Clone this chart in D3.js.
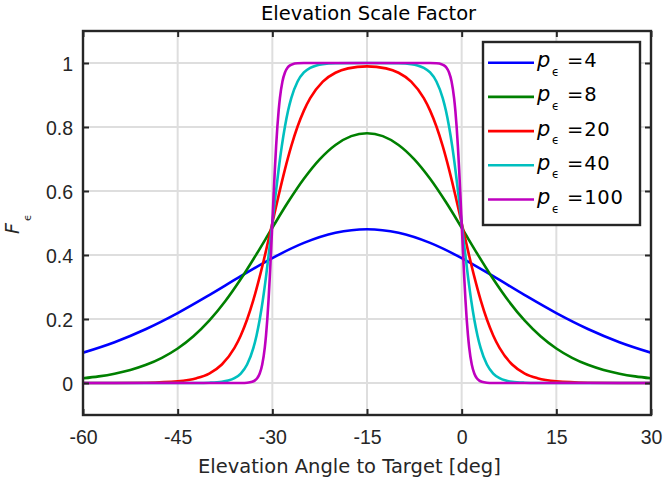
<!DOCTYPE html>
<html>
<head>
<meta charset="utf-8">
<script src="https://cdn.jsdelivr.net/npm/d3@7"></script>
<style>
  html, body { margin: 0; padding: 0; background: #fff; }
  svg { display: block; font-family: "DejaVu Sans", sans-serif; }
</style>
</head>
<body>
<svg id="chart" width="665" height="482"></svg>
<script>
// Elevation scale factor F_eps versus elevation angle for several sharpness values p_eps
const pValues = [4, 8, 20, 40, 100];
const seriesColors = ["#0000ff", "#008000", "#ff0000", "#00bfbf", "#bf00bf"];

const xTicks = [-60, -45, -30, -15, 0, 15, 30];
const xTickLabels = ["-60", "-45", "-30", "-15", "0", "15", "30"];
const yTicks = [0, 0.2, 0.4, 0.6, 0.8, 1];
const yTickLabels = ["0", "0.2", "0.4", "0.6", "0.8", "1"];

// p = 4
const p4X = [-60, -55, -50, -45, -40, -35, -30, -25, -20, -15, -10, -5, 0, 5, 10, 15, 20, 25, 30];
const p4Y = [0.0947, 0.1276, 0.1688, 0.2184, 0.2746, 0.3337, 0.3904, 0.4378, 0.4694, 0.4805,
             0.4694, 0.4378, 0.3904, 0.3337, 0.2746, 0.2184, 0.1688, 0.1276, 0.0947];

// p = 8
const p8X = [-60, -57.5, -55, -52.5, -50, -47.5, -45, -42.5, -40, -37.5, -35, -32.5, -30, -27.5, -25, -22.5, -20, -17.5, -15,
             -12.5, -10, -7.5, -5, -2.5, 0, 2.5, 5, 7.5, 10, 12.5, 15, 17.5, 20, 22.5, 25, 27.5, 30];
const p8Y = [0.0147, 0.0207, 0.0292, 0.0408, 0.0568, 0.0786, 0.1078, 0.1460, 0.1947, 0.2545, 0.3248, 0.4030, 0.4851,
             0.5654, 0.6382, 0.6989, 0.7439, 0.7715, 0.7807,
             0.7715, 0.7439, 0.6989, 0.6382, 0.5654, 0.4851, 0.4030, 0.3248, 0.2545, 0.1947, 0.1460, 0.1078,
             0.0786, 0.0568, 0.0408, 0.0292, 0.0207, 0.0147];

// p = 20
const p20X = [-60, -55, -50, -45, -42, -40, -38, -36, -35, -34, -33, -32, -31, -30, -29, -28, -27, -26, -25, -24, -22, -20, -18, -15,
              -12, -10, -8, -6, -5, -4, -3, -2, -1, 0, 1, 2, 3, 4, 5, 6, 8, 10, 12, 15, 20, 25, 30];
const p20Y = [0.0000, 0.0002, 0.0010, 0.0053, 0.0150, 0.0296, 0.0577, 0.1097, 0.1487, 0.1984, 0.2598, 0.3323, 0.4136,
              0.5000, 0.5864, 0.6677, 0.7402, 0.8015, 0.8512, 0.8901, 0.9419, 0.9695, 0.9832, 0.9894,
              0.9832, 0.9695, 0.9419, 0.8901, 0.8512, 0.8015, 0.7402, 0.6677, 0.5864, 0.5000, 0.4136, 0.3323,
              0.2598, 0.1984, 0.1487, 0.1097, 0.0577, 0.0296, 0.0150, 0.0053, 0.0010, 0.0002, 0.0000];

// p = 40
const p40X = [-60, -50, -45, -42, -40, -38, -37, -36, -35, -34, -33, -32.5, -32, -31.5, -31, -30.5, -30, -29.5, -29, -28.5,
              -28, -27.5, -27, -26, -25, -24, -23, -22, -20, -15,
              -10, -8, -7, -6, -5, -4, -3, -2.5, -2, -1.5, -1, -0.5, 0, 0.5, 1, 1.5, 2, 2.5, 3, 4, 5, 6, 7, 8, 10, 12, 15, 20, 30];
const p40Y = [0.0000, 0.0000, 0.0000, 0.0002, 0.0010, 0.0037, 0.0075, 0.0150, 0.0296, 0.0577, 0.1097, 0.1487, 0.1984,
              0.2598, 0.3323, 0.4136, 0.5000, 0.5864, 0.6677, 0.7402, 0.8016, 0.8513, 0.8903, 0.9423, 0.9704,
              0.9850, 0.9925, 0.9963, 0.9990, 1.0000,
              0.9990, 0.9963, 0.9925, 0.9850, 0.9704, 0.9423, 0.8903, 0.8513, 0.8016, 0.7402, 0.6677, 0.5864,
              0.5000, 0.4136, 0.3323, 0.2598, 0.1984, 0.1487, 0.1097, 0.0577, 0.0296, 0.0150, 0.0075, 0.0037,
              0.0010, 0.0002, 0.0000, 0.0000, 0.0000];

// p = 100
const p100X = [-60, -36, -35, -34, -33.2, -32.8, -32.4, -32, -31.6, -31.2, -31, -30.8, -30.6, -30.4, -30.2, -30,
               -29.8, -29.6, -29.4, -29.2, -29, -28.8, -28.4, -28, -27.6, -27.2, -26.8, -26, -25, -24, -15,
               -6, -5, -4, -3.2, -2.8, -2.4, -2, -1.6, -1.2, -1, -0.8, -0.6, -0.4, -0.2, 0,
               0.2, 0.4, 0.6, 0.8, 1, 1.2, 1.6, 2, 2.4, 2.8, 3.2, 4, 5, 6, 30];
const p100Y = [0.0000, 0.0000, 0.0002, 0.0010, 0.0037, 0.0075, 0.0150, 0.0296, 0.0577, 0.1097, 0.1487, 0.1984,
               0.2598, 0.3323, 0.4136, 0.5000, 0.5864, 0.6677, 0.7402, 0.8016, 0.8513, 0.8903, 0.9423, 0.9704,
               0.9850, 0.9925, 0.9963, 0.9990, 0.9998, 1.0000, 1.0000,
               1.0000, 0.9998, 0.9990, 0.9963, 0.9925, 0.9850, 0.9704, 0.9423, 0.8903, 0.8513, 0.8016, 0.7402,
               0.6677, 0.5864, 0.5000, 0.4136, 0.3323, 0.2598, 0.1984, 0.1487, 0.1097, 0.0577, 0.0296, 0.0150,
               0.0075, 0.0037, 0.0010, 0.0002, 0.0000, 0.0000];

const seriesX = [p4X, p8X, p20X, p40X, p100X];
const seriesY = [p4Y, p8Y, p20Y, p40Y, p100Y];

const svg = d3.select("#chart");
const margin = { left: 83, right: 14, top: 31, bottom: 67 };
const W = 665, H = 482;
const x0 = margin.left, x1 = W - margin.right, y0 = margin.top, y1 = H - margin.bottom;
const ink = "#262626";

const x = d3.scaleLinear().domain([-60, 30]).range([x0, x1]);
const y = d3.scaleLinear().domain([-0.1, 1.1]).range([y1, y0]);

// grid
const grid = svg.append("g");
grid.selectAll(".gx").data(xTicks).join("line")
  .attr("x1", d => x(d)).attr("x2", d => x(d)).attr("y1", y0).attr("y2", y1)
  .attr("stroke", "#dedede").attr("stroke-width", 2);
grid.selectAll(".gy").data(yTicks).join("line")
  .attr("x1", x0).attr("x2", x1).attr("y1", d => y(d)).attr("y2", d => y(d))
  .attr("stroke", "#dedede").attr("stroke-width", 2);

// curves
svg.append("clipPath").attr("id", "plotclip").append("rect")
  .attr("x", x0).attr("y", y0).attr("width", x1 - x0).attr("height", y1 - y0);
const line = d3.line().x(d => x(d[0])).y(d => y(d[1])).curve(d3.curveMonotoneX);
const curves = svg.append("g").attr("clip-path", "url(#plotclip)");
seriesX.forEach((xs, i) => {
  const pts = xs.map((v, j) => [v, seriesY[i][j]]);
  curves.append("path").datum(pts)
    .attr("d", line)
    .attr("fill", "none")
    .attr("stroke", seriesColors[i])
    .attr("stroke-width", 2.6)
    .attr("stroke-linejoin", "round");
});

// axes with inward ticks on all four sides
const tickLen = 6;
const fmtX = d => xTickLabels[xTicks.indexOf(d)];
const fmtY = d => yTickLabels[yTicks.indexOf(d)];
const axB = svg.append("g").attr("transform", `translate(0,${y1})`)
  .call(d3.axisBottom(x).tickValues(xTicks).tickFormat(fmtX).tickSizeInner(-tickLen).tickSizeOuter(0).tickPadding(15));
const axT = svg.append("g").attr("transform", `translate(0,${y0})`)
  .call(d3.axisTop(x).tickValues(xTicks).tickSizeInner(-tickLen).tickSizeOuter(0).tickFormat(""));
const axL = svg.append("g").attr("transform", `translate(${x0},0)`)
  .call(d3.axisLeft(y).tickValues(yTicks).tickFormat(fmtY).tickSizeInner(-tickLen).tickSizeOuter(0).tickPadding(10));
const axR = svg.append("g").attr("transform", `translate(${x1},0)`)
  .call(d3.axisRight(y).tickValues(yTicks).tickSizeInner(-tickLen).tickSizeOuter(0).tickFormat(""));
[axB, axT, axL, axR].forEach(a => {
  a.select(".domain").remove();
  a.selectAll(".tick line").attr("stroke", ink).attr("stroke-width", 2);
  a.selectAll(".tick text").attr("fill", ink).attr("font-size", 19.5).attr("font-family", null);
});
axB.selectAll(".tick text").attr("dy", "0.71em");
axL.selectAll(".tick text").attr("dy", "0.36em");

svg.append("rect")
  .attr("x", x0).attr("y", y0).attr("width", x1 - x0).attr("height", y1 - y0)
  .attr("fill", "none").attr("stroke", ink).attr("stroke-width", 2.4);

// titles
svg.append("text").attr("x", 261).attr("y", 20)
  .attr("font-size", 19.5).attr("fill", "#000")
  .text("Elevation Scale Factor");
svg.append("text").attr("x", 198).attr("y", 472.5)
  .attr("font-size", 19.5).attr("fill", ink)
  .text("Elevation Angle to Target [deg]");
const yl = svg.append("text")
  .attr("transform", "translate(19,234) rotate(-90)")
  .attr("font-size", 19).attr("fill", ink);
yl.append("tspan").attr("font-style", "italic").text("F");
yl.append("tspan").attr("font-size", 11).attr("dy", 12).attr("dx", 2).text("ϵ");

// legend
const lg = svg.append("g");
lg.append("rect").attr("x", 483).attr("y", 42).attr("width", 157).attr("height", 183)
  .attr("fill", "#fff").attr("stroke", ink).attr("stroke-width", 2.4);
pValues.forEach((p, i) => {
  const ry = 62.7 + i * 34.2;
  lg.append("line").attr("x1", 488).attr("x2", 534).attr("y1", ry).attr("y2", ry)
    .attr("stroke", seriesColors[i]).attr("stroke-width", 2.6);
  const t = lg.append("g");
  t.append("text").attr("x", 537).attr("y", ry + 4.5).attr("font-size", 21).attr("fill", "#000")
    .attr("font-style", "italic").text("p");
  t.append("text").attr("x", 552).attr("y", ry + 13).attr("font-size", 11.5).attr("fill", "#000")
    .text("ϵ");
  t.append("text").attr("x", 567).attr("y", ry + 4.5).attr("font-size", 19.5).attr("fill", "#000")
    .attr("letter-spacing", 0.8)
    .text("=" + p);
});
</script>
</body>
</html>
